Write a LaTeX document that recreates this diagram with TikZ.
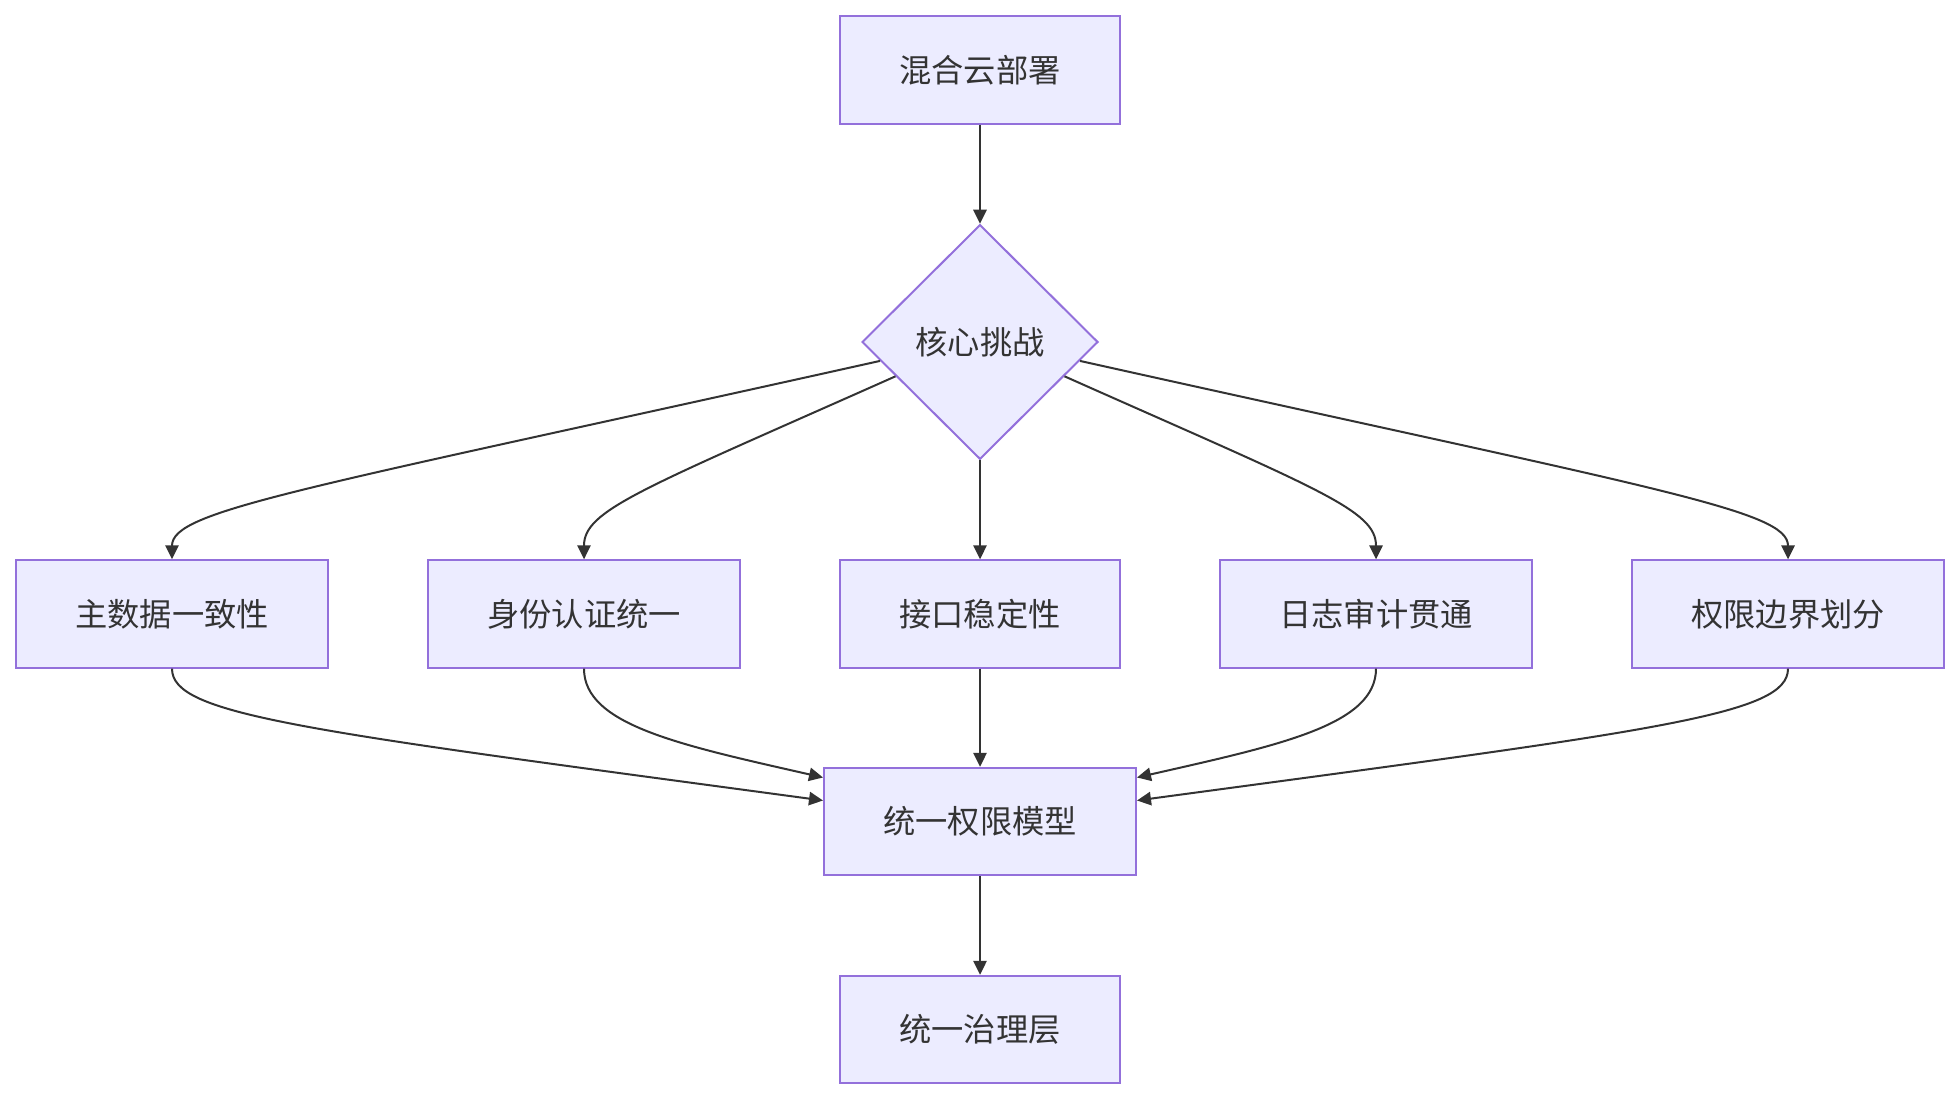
\documentclass[tikz,border=0pt]{standalone}
\usepackage{fontspec}
\newfontfamily\cjk{Noto Sans CJK SC}
\usetikzlibrary{shapes.geometric, arrows.meta, calc}
\definecolor{boxfill}{HTML}{ECECFF}
\definecolor{boxline}{HTML}{9370DB}
\definecolor{ink}{HTML}{333333}
\tikzset{
    box/.style={draw=boxline, fill=boxfill, line width=1.5pt, text=ink,
        font=\cjk\fontsize{24.2}{28}\selectfont, inner sep=0pt,
        minimum height=80.5pt},
    choice/.style={box, diamond, aspect=1, minimum width=177pt, minimum height=176pt},
    link/.style={draw=ink, line width=1.5pt, -{Triangle[length=10.5pt, width=10pt]}}
}
\begin{document}
\begin{tikzpicture}[x=0.75pt, y=0.75pt]
    \useasboundingbox (0,0) rectangle (1960,1100);
    % Nodes
    \node[box, minimum width=210pt] (hybrid) at (980,1030) {混合云部署};
    \node[choice] (chal) at (980,758) {核心挑战};
    \node[box, minimum width=234pt] (master) at (172,486) {主数据一致性};
    \node[box, minimum width=234pt] (ident) at (584,486) {身份认证统一};
    \node[box, minimum width=210pt] (api) at (980,486) {接口稳定性};
    \node[box, minimum width=234pt] (audit) at (1376,486) {日志审计贯通};
    \node[box, minimum width=234pt] (bound) at (1788,486) {权限边界划分};
    \node[box, minimum width=234pt] (perm) at (980,278.5) {统一权限模型};
    \node[box, minimum width=210pt] (gov) at (980,70.5) {统一治理层};
    % Diamond exits
    \coordinate (l1) at ($(chal.west)!0.16!(chal.south)$);
    \coordinate (l2) at ($(chal.west)!0.29!(chal.south)$);
    \coordinate (r1) at ($(chal.east)!0.16!(chal.south)$);
    \coordinate (r2) at ($(chal.east)!0.29!(chal.south)$);
    % Perm entries
    \coordinate (pl1) at ($(perm.west)+(0,21)$);
    \coordinate (pl2) at ($(perm.west)+(0,44)$);
    \coordinate (pr1) at ($(perm.east)+(0,21)$);
    \coordinate (pr2) at ($(perm.east)+(0,44)$);
    % Edges
    \draw[link] (hybrid) -- (chal);
    \draw[link] (l1) .. controls (300,610) and (172,590) .. (master.north);
    \draw[link] (l2) .. controls (640,610) and (584,590) .. (ident.north);
    \draw[link] (chal) -- (api);
    \draw[link] (r2) .. controls (1320,610) and (1376,590) .. (audit.north);
    \draw[link] (r1) .. controls (1660,610) and (1788,590) .. (bound.north);
    \draw[link] (master.south) .. controls (172,385) and (300,370) .. (pl1);
    \draw[link] (ident.south) .. controls (584,375) and (680,355) .. (pl2);
    \draw[link] (api) -- (perm);
    \draw[link] (audit.south) .. controls (1376,375) and (1280,355) .. (pr2);
    \draw[link] (bound.south) .. controls (1788,385) and (1660,370) .. (pr1);
    \draw[link] (perm) -- (gov);
\end{tikzpicture}
\end{document}
